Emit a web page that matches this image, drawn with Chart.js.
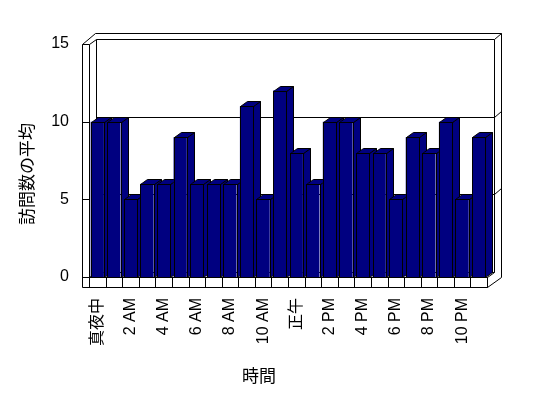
<!DOCTYPE html>
<html>
<head>
<meta charset="utf-8">
<script src="https://cdn.jsdelivr.net/npm/chart.js@4"></script>
<style>
html,body{margin:0;padding:0;background:#fff;}
canvas{display:block;}
</style>
</head>
<body>
<canvas id="c" width="548" height="398"></canvas>
<script>
const categories = ["真夜中","1 AM","2 AM","3 AM","4 AM","5 AM","6 AM","7 AM","8 AM","9 AM","10 AM","11 AM",
                    "正午","1 PM","2 PM","3 PM","4 PM","5 PM","6 PM","7 PM","8 PM","9 PM","10 PM","11 PM"];
const visits = [10,10,5,6,6,9,6,6,6,11,5,12,8,6,10,10,8,8,5,9,8,10,5,9];
const yTicks = [0,5,10,15];
const yTitle = "訪問数の平均";
const xTitle = "時間";

const FONT = '"Liberation Sans", "Noto Sans CJK JP", sans-serif';
const DX = 7, DY = -5, T = 7;

function L(ctx, x1, y1, x2, y2) {
  ctx.beginPath();
  ctx.moveTo(Math.round(x1) + 0.5, Math.round(y1) + 0.5);
  ctx.lineTo(Math.round(x2) + 0.5, Math.round(y2) + 0.5);
  ctx.stroke();
}
function poly(ctx, pts) {
  ctx.beginPath();
  pts.forEach((p, i) => {
    const x = Math.round(p[0]) + 0.5, y = Math.round(p[1]) + 0.5;
    if (i === 0) ctx.moveTo(x, y); else ctx.lineTo(x, y);
  });
  ctx.closePath();
  ctx.fill();
  ctx.stroke();
}
function barBox(bar) {
  const p = bar.getProps(['x', 'y', 'base', 'width'], true);
  return {
    bl: Math.round(p.x - p.width / 2),
    br: Math.round(p.x + p.width / 2),
    y: Math.round(p.y),
    base: Math.round(p.base)
  };
}

const box3d = {
  id: 'box3d',
  beforeDatasetsDraw(chart) {
    const ctx = chart.ctx;
    const {left, right, top, bottom} = chart.chartArea;
    const ys = chart.scales.y;
    ctx.save();
    ctx.strokeStyle = '#000';
    ctx.lineWidth = 1;
    // back wall grid
    yTicks.forEach(v => {
      if (v === 0 || v === 15) return;
      const yy = ys.getPixelForValue(v) + DY;
      L(ctx, left + DX, yy, right + DX, yy);
      L(ctx, right + DX, yy, right + DX + T, yy - 6);
    });
    // left wall front face
    L(ctx, left - T, top, left - T, bottom + 10);
    L(ctx, left, top, left, bottom);
    yTicks.forEach(v => {
      const yy = ys.getPixelForValue(v);
      L(ctx, left - T, yy, left, yy);
    });
    // top diagonals
    L(ctx, left - T, top, left + DX - 1, top + DY - 6);
    L(ctx, left, top, left + DX, top + DY);
    // back wall
    L(ctx, left + DX - 1, top + DY - 6, right + DX + T, top + DY - 6);
    L(ctx, left + DX, top + DY, right + DX, top + DY);
    L(ctx, left + DX, top + DY, left + DX, bottom + DY);
    L(ctx, right + DX, top + DY, right + DX, bottom + DY);
    L(ctx, right + DX + T, top + DY - 6, right + DX + T, bottom);
    L(ctx, right + DX, top + DY, right + DX + T, top + DY - 6);
    // floor
    L(ctx, left, bottom, right, bottom);
    L(ctx, left - T, bottom + 10, right, bottom + 10);
    L(ctx, right, bottom, right, bottom + 10);
    L(ctx, right, bottom + 10, right + DX + T, bottom);
    L(ctx, right, bottom, right + DX, bottom + DY);
    L(ctx, left, bottom, left + DX, bottom + DY);
    L(ctx, left + DX, bottom + DY, right + DX, bottom + DY);
    const n = categories.length;
    for (let k = 0; k <= n; k++) {
      const xx = left + (right - left) * k / n;
      L(ctx, xx, bottom, xx, bottom + 10);
    }
    // 3D faces of the bars
    const meta = chart.getDatasetMeta(0);
    ctx.fillStyle = '#000080';
    meta.data.forEach(bar => {
      const b = barBox(bar);
      poly(ctx, [[b.br, b.y], [b.br + DX, b.y + DY], [b.br + DX, b.base + DY], [b.br, b.base]]);
      poly(ctx, [[b.bl, b.y], [b.bl + DX, b.y + DY], [b.br + DX, b.y + DY], [b.br, b.y]]);
    });
    ctx.restore();
  },
  afterDatasetsDraw(chart) {
    const ctx = chart.ctx;
    ctx.save();
    ctx.strokeStyle = '#000';
    ctx.lineWidth = 1;
    chart.getDatasetMeta(0).data.forEach(bar => {
      const b = barBox(bar);
      ctx.strokeRect(b.bl + 0.5, b.y + 0.5, b.br - b.bl, b.base - b.y);
    });
    ctx.restore();
  },
  afterDraw(chart) {
    const ctx = chart.ctx;
    ctx.save();
    ctx.fillStyle = '#000';
    ctx.font = '17px ' + FONT;
    ctx.textAlign = 'center';
    ctx.textBaseline = 'middle';
    ctx.fillText(xTitle, 259, 377);
    ctx.translate(28, 174);
    ctx.rotate(-Math.PI / 2);
    ctx.fillText(yTitle, 0, 0);
    ctx.restore();
  }
};

new Chart(document.getElementById('c'), {
  type: 'bar',
  data: {
    labels: categories,
    datasets: [{
      data: visits,
      backgroundColor: '#000080',
      borderColor: '#000',
      borderWidth: 0,
      barPercentage: 0.8,
      categoryPercentage: 1.0
    }]
  },
  options: {
    responsive: false,
    animation: false,
    devicePixelRatio: 1,
    layout: {padding: {top: 44, right: 61, left: 0, bottom: 0}},
    plugins: {legend: {display: false}, tooltip: {enabled: false}},
    scales: {
      x: {
        grid: {display: false, drawTicks: false},
        border: {display: false},
        ticks: {
          autoSkip: false,
          maxRotation: 90,
          minRotation: 90,
          padding: 21,
          color: '#000',
          font: {family: FONT, size: 16},
          callback: function (v, i) { return i % 2 === 0 ? categories[i] : ''; }
        },
        afterFit: s => { s.height = 398 - 277; }
      },
      y: {
        min: 0, max: 15,
        grid: {display: false, drawTicks: false},
        border: {display: false},
        ticks: {
          stepSize: 5,
          padding: 20,
          color: '#000',
          font: {family: FONT, size: 16}
        },
        afterFit: s => { s.width = 89; }
      }
    }
  },
  plugins: [box3d]
});
</script>
</body>
</html>
